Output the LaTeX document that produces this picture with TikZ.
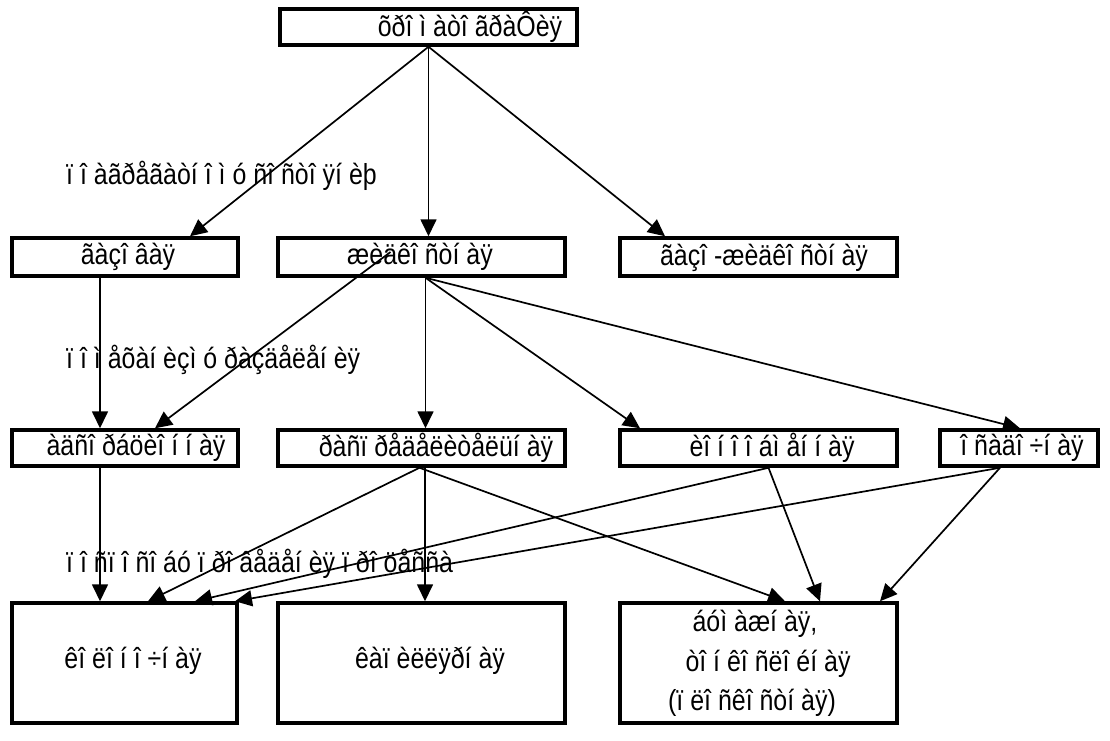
\documentclass[tikz,border=0pt]{standalone}
\usepackage{fontspec}
\setmainfont{Liberation Sans}[FakeStretch=0.86]
\usetikzlibrary{arrows.meta}
\begin{document}
\begin{tikzpicture}[x=1pt,y=-1pt,
  box/.style={draw, line width=3.5pt, inner sep=0pt},
  txt/.style={inner sep=0pt, font=\fontsize{29}{40}\selectfont},
  arr/.style={line width=1.7pt, -{Triangle[length=17pt,width=16pt]}}]
\useasboundingbox[fill=white] (0,0) rectangle (1110,740);

% boxes
\node[box, minimum width=297pt, minimum height=36pt] (top) at (428.5,27) {};
\node[box, minimum width=226pt, minimum height=38pt] (gaz) at (125,257) {};
\node[box, minimum width=287pt, minimum height=38pt] (liq) at (421.5,257) {};
\node[box, minimum width=277pt, minimum height=38pt] (gl)  at (758.5,257) {};
\node[box, minimum width=226pt, minimum height=36pt] (ads) at (125,448) {};
\node[box, minimum width=287pt, minimum height=36pt] (rasp) at (421.5,448) {};
\node[box, minimum width=277pt, minimum height=36pt] (ion) at (758.5,448) {};
\node[box, minimum width=158pt, minimum height=36pt] (osa) at (1019,448) {};
\node[box, minimum width=225pt, minimum height=120pt] (kol) at (124.5,663) {};
\node[box, minimum width=287pt, minimum height=120pt] (kap) at (421.5,663) {};
\node[box, minimum width=277pt, minimum height=120pt] (bum) at (758.5,663) {};

% box texts
\node[txt] (ttop) at (470,27) {õðî ì àòî ãðàÔèÿ};
\node[txt] (tgaz) at (128,257) {ãàçî âàÿ};
\node[txt] (tliq) at (420,257) {æèäêî ñòí àÿ};
\node[txt] (tgl) at (764,258) {ãàçî -æèäêî ñòí àÿ};
\node[txt] (tads) at (136,448) {àäñî ðáöèî í í àÿ};
\node[txt] (trasp) at (436,448) {ðàñï ðåäåëèòåëüí àÿ};
\node[txt] (tion) at (772,448) {èî í î î áì åí í àÿ};
\node[txt] (tosa) at (1022,448) {î ñàäî ÷í àÿ};
\node[txt] (tkol) at (133,661) {êî ëî í î ÷í àÿ};
\node[txt] (tkap) at (430,661) {êàï èëëÿðí àÿ};
\node[txt] (tbum1) at (755,624) {áóì àæí àÿ,};
\node[txt] (tbum2) at (768,664) {òî í êî ñëî éí àÿ};
\node[txt] (tbum3) at (752,703) {(ï ëî ñêî ñòí àÿ)};

% classification labels
\node[txt, anchor=west] (l1) at (66,176) {ï î  àãðåãàòí î ì ó ñî ñòî ÿí èþ};
\node[txt, anchor=west] (l2) at (66,360) {ï î  ì åõàí èçì ó ðàçäåëåí èÿ};
\node[txt, anchor=west] (l3) at (66,564) {ï î  ñï î ñî áó ï ðî âåäåí èÿ ï ðî öåññà};

% level 1 -> level 2
\draw[arr] (top.south) -- ([xshift=65pt]gaz.north);
\draw[arr] (top.south) -- (top.south |- liq.north);
\draw[arr] (top.south) -- ([xshift=-93.5pt]gl.north);

% level 2 -> level 3
\coordinate (gs) at ([xshift=-25pt]gaz.south);
\draw[arr] (gs) -- (gs |- ads.north);
\coordinate (lq) at ([xshift=-31pt,yshift=5pt]liq.center);
\draw[arr] (lq) -- ([xshift=30pt]ads.north);
\coordinate (ls) at ([xshift=4pt]liq.south);
\draw[arr] (ls) -- (ls |- rasp.north);
\draw[arr] (ls) -- ([xshift=-118.5pt]ion.north);
\draw[arr] (ls) -- ([xshift=1pt]osa.north);

% level 3 -> level 4
\coordinate (as) at ([xshift=-25pt]ads.south);
\draw[arr] (as) -- (as |- kol.north);
\coordinate (rs) at ([xshift=-2pt]rasp.south);
\draw[arr] (rs) -- ([xshift=23.5pt]kol.north);
\draw[arr] ([xshift=3.5pt]rasp.south) -- ([xshift=3.5pt]kap.north);
\draw[arr] (rs) -- ([xshift=26.5pt]bum.north);
\coordinate (is) at ([xshift=10pt]ion.south);
\draw[arr] (is) -- ([xshift=70.5pt]kol.north);
\draw[arr] (is) -- ([xshift=61.5pt]bum.north);
\coordinate (os) at ([xshift=-19pt]osa.south);
\draw[arr] (os) -- ([xshift=110.5pt]kol.north);
\draw[arr] (os) -- ([xshift=121.5pt]bum.north);
\end{tikzpicture}
\end{document}
